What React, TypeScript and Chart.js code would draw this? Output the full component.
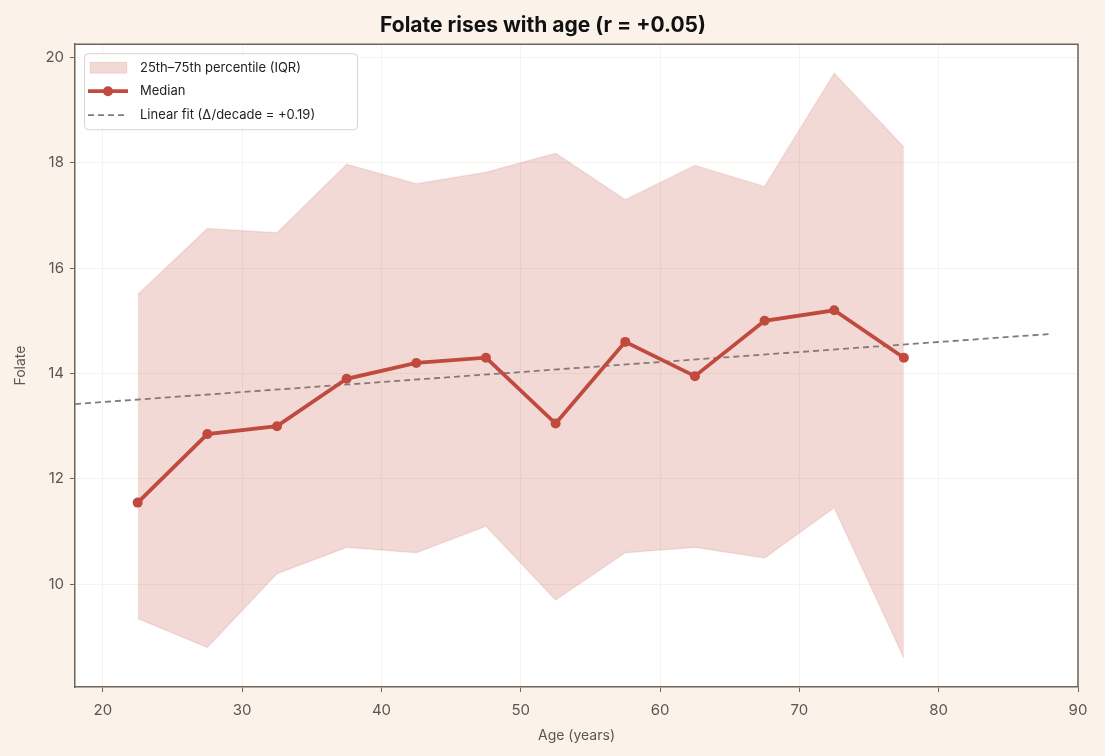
import React, { useEffect, useRef } from "react";
import { Chart, registerables } from "chart.js";

Chart.register(...registerables);

const ageBins = [22.5, 27.5, 32.5, 37.5, 42.5, 47.5, 52.5, 57.5, 62.5, 67.5, 72.5, 77.5];
const medianFolate = [11.55, 12.85, 13.0, 13.9, 14.2, 14.3, 13.05, 14.6, 13.95, 15.0, 15.2, 14.3];
const p75Folate = [15.5, 16.75, 16.67, 17.97, 17.6, 17.82, 18.18, 17.3, 17.95, 17.55, 19.7, 18.3];
const p25Folate = [9.35, 8.8, 10.2, 10.7, 10.6, 11.1, 9.7, 10.6, 10.7, 10.5, 11.45, 8.6];
const fitX = [18, 88];
const fitY = [13.42, 14.75];
const xTicks = [20, 30, 40, 50, 60, 70, 80, 90];
const yTicks = [10, 12, 14, 16, 18, 20];

const BG = "#FBF3E9";
const RED = "#C04A3E";
const BAND = "rgba(192, 74, 62, 0.21)";
const BAND_EDGE = "rgba(192, 74, 62, 0.12)";
const FIT = "#857975";
const AXIS = "#6E625D";
const TICK_TXT = "#5E5451";
const GRID = "#F6F3EA";
const FONT = "Inter, 'DejaVu Sans', sans-serif";

const framePlugin = {
  id: "frame",
  beforeDraw(chart: any) {
    const { ctx, chartArea } = chart;
    ctx.save();
    ctx.fillStyle = "#FFFFFF";
    ctx.fillRect(chartArea.left, chartArea.top, chartArea.right - chartArea.left, chartArea.bottom - chartArea.top);
    ctx.restore();
  },
  afterDraw(chart: any) {
    const { ctx, chartArea } = chart;
    ctx.save();
    ctx.strokeStyle = AXIS;
    ctx.lineWidth = 1.5;
    ctx.beginPath();
    ctx.moveTo(chartArea.left, chartArea.top);
    ctx.lineTo(chartArea.right, chartArea.top);
    ctx.lineTo(chartArea.right, chartArea.bottom);
    ctx.stroke();

    const x0 = chartArea.left + 9;
    const y0 = chartArea.top + 9;
    const w = 273;
    const h = 76;
    ctx.fillStyle = "rgba(255,255,255,0.85)";
    ctx.strokeStyle = "#D8D4D0";
    ctx.lineWidth = 1;
    ctx.beginPath();
    (ctx as any).roundRect(x0 + 0.5, y0 + 0.5, w, h, 4);
    ctx.fill();
    ctx.stroke();

    ctx.font = `13px ${FONT}`;
    ctx.textBaseline = "middle";
    const tx = x0 + 56;
    ctx.fillStyle = BAND;
    ctx.fillRect(x0 + 6, y0 + 9, 37, 11);
    ctx.strokeStyle = BAND_EDGE;
    ctx.strokeRect(x0 + 6, y0 + 9, 37, 11);
    ctx.fillStyle = "#222";
    ctx.fillText("25th\u201375th percentile (IQR)", tx, y0 + 15);
    ctx.strokeStyle = RED;
    ctx.lineWidth = 3.8;
    ctx.beginPath();
    ctx.moveTo(x0 + 4, y0 + 38);
    ctx.lineTo(x0 + 44, y0 + 38);
    ctx.stroke();
    ctx.fillStyle = RED;
    ctx.beginPath();
    ctx.arc(x0 + 24, y0 + 38, 5, 0, Math.PI * 2);
    ctx.fill();
    ctx.fillStyle = "#222";
    ctx.fillText("Median", tx, y0 + 38);
    ctx.strokeStyle = FIT;
    ctx.lineWidth = 1.8;
    ctx.setLineDash([6, 4]);
    ctx.beginPath();
    ctx.moveTo(x0 + 4, y0 + 62);
    ctx.lineTo(x0 + 44, y0 + 62);
    ctx.stroke();
    ctx.setLineDash([]);
    ctx.fillStyle = "#222";
    ctx.fillText("Linear fit (\u0394/decade = +0.19)", tx, y0 + 62);
    ctx.restore();
  },
};

export default function App() {
  const ref = useRef<HTMLCanvasElement | null>(null);
  useEffect(() => {
    document.body.style.margin = "0";
    document.body.style.background = BG;
    const canvas = ref.current!;
    const chart = new Chart(canvas, {
      type: "line",
      data: {
        datasets: [
          {
            label: "p75",
            data: ageBins.map((x, i) => ({ x, y: p75Folate[i] })),
            borderColor: BAND_EDGE,
            borderWidth: 1.5,
            backgroundColor: BAND,
            pointRadius: 0,
            fill: "+1",
            tension: 0,
            order: 3,
          },
          {
            label: "p25",
            data: ageBins.map((x, i) => ({ x, y: p25Folate[i] })),
            borderColor: BAND_EDGE,
            borderWidth: 1.5,
            backgroundColor: BAND,
            pointRadius: 0,
            fill: false,
            tension: 0,
            order: 3,
          },
          {
            label: "Linear fit",
            data: fitX.map((x, i) => ({ x, y: fitY[i] })),
            borderColor: FIT,
            borderWidth: 1.8,
            borderDash: [6, 4],
            pointRadius: 0,
            fill: false,
            order: 2,
          },
          {
            label: "Median",
            data: ageBins.map((x, i) => ({ x, y: medianFolate[i] })),
            borderColor: RED,
            backgroundColor: RED,
            borderWidth: 3.8,
            pointRadius: 5,
            pointBorderWidth: 0,
            pointBackgroundColor: RED,
            fill: false,
            tension: 0,
            order: 1,
          },
        ],
      },
      options: {
        animation: false,
        responsive: false,
        maintainAspectRatio: false,
        layout: { padding: { left: 8, right: 27, top: 0, bottom: 8 } },
        plugins: {
          legend: { display: false },
          tooltip: { enabled: false },
          title: {
            display: true,
            text: "Folate rises with age (r = +0.05)",
            color: "#111",
            font: { family: FONT, size: 21, weight: "bold" },
            padding: { top: 13, bottom: 6 },
          },
        },
        scales: {
          x: {
            type: "linear",
            min: 18,
            max: 90,
            afterFit(s: any) {
              s.height = 61;
            },
            afterBuildTicks(s: any) {
              s.ticks = xTicks.map((v) => ({ value: v }));
            },
            ticks: {
              color: TICK_TXT,
              font: { family: FONT, size: 15 },
              padding: 9,
            },
            grid: { color: GRID, tickColor: AXIS, tickLength: 5, lineWidth: 1 },
            border: { color: AXIS, width: 1.5 },
            title: {
              display: true,
              text: "Age (years)",
              color: TICK_TXT,
              font: { family: FONT, size: 14 },
              padding: { top: 1 },
            },
          },
          y: {
            type: "linear",
            min: 8.05,
            max: 20.25,
            afterFit(s: any) {
              s.width = 67;
            },
            afterBuildTicks(s: any) {
              s.ticks = yTicks.map((v) => ({ value: v }));
            },
            ticks: {
              color: TICK_TXT,
              font: { family: FONT, size: 15 },
              padding: 6,
            },
            grid: { color: GRID, tickColor: AXIS, tickLength: 5, lineWidth: 1 },
            border: { color: AXIS, width: 1.5 },
            title: {
              display: true,
              text: "Folate",
              color: TICK_TXT,
              font: { family: FONT, size: 14 },
              padding: { bottom: 4 },
            },
          },
        },
      },
      plugins: [framePlugin],
    } as any);
    return () => chart.destroy();
  }, []);
  return (
    <div style={{ width: 1105, height: 756, background: BG }}>
      <canvas ref={ref} width={1105} height={756} style={{ display: "block" }} />
    </div>
  );
}
